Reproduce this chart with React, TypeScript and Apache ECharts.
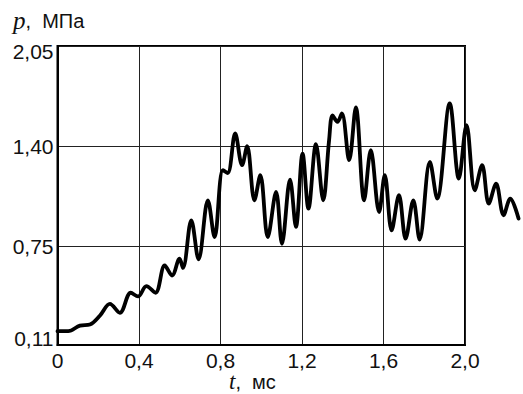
import React, { useEffect, useRef } from "react";
import * as echarts from "echarts";

// time, ms
const tValues = [0, 0.053, 0.111, 0.16, 0.209, 0.259, 0.308, 0.362, 0.398, 0.439, 0.484, 0.53, 0.566, 0.603, 0.62, 0.661, 0.697, 0.743, 0.776, 0.817, 0.841, 0.878, 0.912, 0.937, 0.973, 1.002, 1.039, 1.08, 1.109, 1.149, 1.178, 1.211, 1.24, 1.277, 1.313, 1.342, 1.359, 1.383, 1.405, 1.441, 1.474, 1.515, 1.548, 1.589, 1.617, 1.651, 1.687, 1.72, 1.758, 1.789, 1.84, 1.876, 1.938, 1.983, 2.021, 2.062, 2.098, 2.131, 2.167, 2.204, 2.237, 2.278];
// pressure, MPa
const pValues = [0.2, 0.2, 0.236, 0.243, 0.3, 0.377, 0.319, 0.449, 0.425, 0.492, 0.449, 0.626, 0.561, 0.67, 0.61, 0.919, 0.666, 1.049, 0.81, 1.244, 1.226, 1.483, 1.277, 1.4, 1.049, 1.212, 0.81, 1.103, 0.767, 1.183, 0.876, 1.352, 0.995, 1.413, 1.049, 1.44, 1.6, 1.558, 1.612, 1.309, 1.652, 1.049, 1.374, 0.973, 1.212, 0.854, 1.082, 0.8, 1.049, 0.794, 1.298, 1.06, 1.678, 1.19, 1.537, 1.114, 1.277, 1.027, 1.157, 0.952, 1.06, 0.93];

const yTicks = [0.11, 0.75, 1.4, 2.05];
const yTickLabels = ["0,11", "0,75", "1,40", "2,05"];
const xTicks = [0, 0.4, 0.8, 1.2, 1.6, 2.0];
const xTickLabels = ["0", "0,4", "0,8", "1,2", "1,6", "2,0"];

const W = 523;
const H = 394;
const LEFT = 57.5;
const RIGHT = 58;
const TOP = 46;
const BOTTOM = 49;

export default function App() {
  const ref = useRef<HTMLDivElement>(null);
  useEffect(() => {
    if (!ref.current) return;
    const chart = echarts.init(ref.current, null, { renderer: "svg" });
    const data = tValues.map((t, i) => [t, pValues[i]]);
    const font = "'Liberation Sans', Arial, sans-serif";
    const xMin = xTicks[0];
    const xMax = xTicks[xTicks.length - 1];
    const xMaxData = 2.3;
    // second (hidden) grid shares the same scale but extends past the frame
    const pxPerUnit = (W - LEFT - RIGHT) / (xMax - xMin);
    const right2 = W - LEFT - pxPerUnit * (xMaxData - xMin);
    chart.setOption({
      animation: false,
      backgroundColor: "#ffffff",
      grid: [
        {
          left: LEFT,
          right: RIGHT,
          top: TOP,
          bottom: BOTTOM,
          show: true,
          borderColor: "#000",
          borderWidth: 2,
          backgroundColor: "transparent",
        },
        { left: LEFT, right: right2, top: TOP, bottom: BOTTOM, show: false },
      ],
      xAxis: [
        {
          type: "value",
          gridIndex: 0,
          min: xMin,
          max: xMax,
          interval: 0.4,
          axisLine: { show: true, lineStyle: { color: "#000", width: 2 } },
          axisTick: { show: false },
          splitLine: { show: true, lineStyle: { color: "#222", width: 1 } },
          axisLabel: {
            color: "#111",
            fontFamily: font,
            fontSize: 21,
            lineHeight: 20,
            margin: 5,
            formatter: (v: number) => {
              const i = xTicks.findIndex((x) => Math.abs(x - v) < 1e-6);
              return i >= 0 ? xTickLabels[i] : "";
            },
          },
        },
        {
          type: "value",
          gridIndex: 1,
          min: xMin,
          max: xMaxData,
          show: false,
          splitLine: { show: false },
        },
      ],
      yAxis: [
        {
          type: "value",
          gridIndex: 0,
          min: 0.11,
          max: 2.05,
          axisLine: { show: true, lineStyle: { color: "#000", width: 2 } },
          axisTick: { show: false, customValues: yTicks },
          splitLine: { show: true, lineStyle: { color: "#222", width: 1 } },
          axisLabel: {
            customValues: yTicks,
            color: "#111",
            fontFamily: font,
            fontSize: 21,
            margin: 4,
            formatter: (v: number) => {
              const i = yTicks.findIndex((y) => Math.abs(y - v) < 1e-6);
              if (i < 0) return "";
              if (i === 0) return "{b|" + yTickLabels[i] + "}";
              if (i === yTicks.length - 1) return "{t|" + yTickLabels[i] + "}";
              return yTickLabels[i];
            },
            rich: {
              b: { fontFamily: font, fontSize: 21, color: "#111", padding: [0, 0, 14, 0] },
              t: { fontFamily: font, fontSize: 21, color: "#111", padding: [10, 0, 0, 0] },
            },
          },
        },
        {
          type: "value",
          gridIndex: 1,
          min: 0.11,
          max: 2.05,
          show: false,
          splitLine: { show: false },
        },
      ],
      graphic: [
        {
          type: "text",
          left: 13,
          top: 8,
          style: {
            text: "{i|p},  {s|МПа}",
            rich: {
              i: { fontFamily: "'Liberation Serif', serif", fontStyle: "italic", fontSize: 25, fill: "#111" },
              s: { fontFamily: font, fontSize: 20, fill: "#111" },
            },
            font: "20px 'Liberation Sans', Arial, sans-serif",
            fill: "#111",
          },
        },
        {
          type: "text",
          left: 229,
          top: 370,
          style: {
            text: "{i|t},  {s|мс}",
            rich: {
              i: { fontFamily: "'Liberation Serif', serif", fontStyle: "italic", fontSize: 23, lineHeight: 20, fill: "#111" },
              s: { fontFamily: font, fontSize: 20, lineHeight: 20, fill: "#111" },
            },
            font: "20px 'Liberation Sans', Arial, sans-serif",
            fill: "#111",
          },
        },
      ],
      series: [
        {
          type: "line",
          xAxisIndex: 1,
          yAxisIndex: 1,
          data,
          clip: false,
          smooth: 0.35,
          showSymbol: false,
          lineStyle: { color: "#000", width: 3.8, cap: "round", join: "round" },
        },
      ],
    });
    return () => chart.dispose();
  }, []);
  return (
    <div
      ref={ref}
      style={{ position: "absolute", left: 0, top: 0, width: W, height: H, background: "#fff" }}
    />
  );
}
